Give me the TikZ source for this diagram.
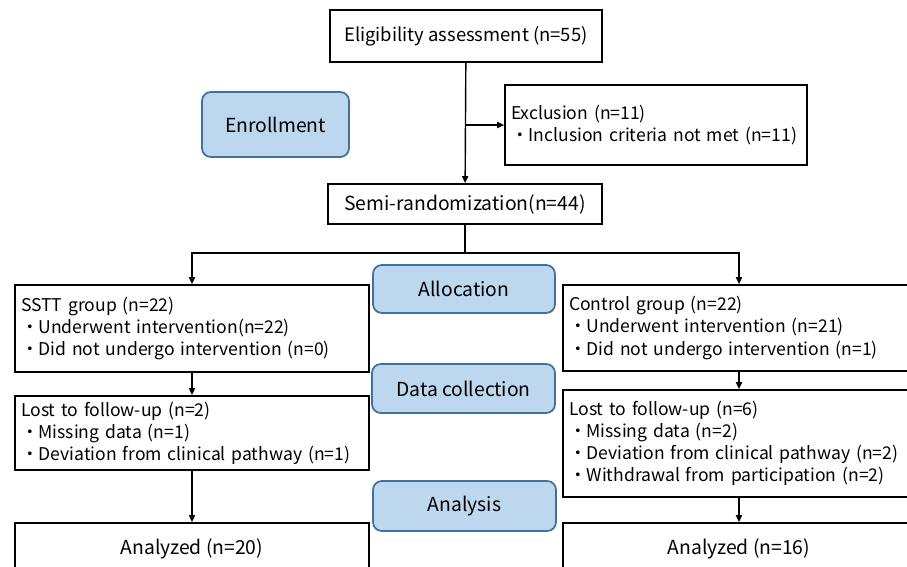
\documentclass[tikz,border=0pt]{standalone}
\usepackage{fontspec}
\setmainfont{Noto Sans CJK JP}
\usetikzlibrary{arrows.meta}
\definecolor{stagefill}{HTML}{BDD7EE}
\definecolor{stageline}{HTML}{41719C}

\begin{document}
\begin{tikzpicture}[x=0.02cm, y=-0.02cm,
	font=\fontsize{10}{12.6}\selectfont,
	box/.style={shape=rectangle, draw, line width=1pt, inner xsep=0.12cm, inner ysep=0pt},
	lbox/.style={box, align=left, text width=#1},
	cbox/.style={box, font=\fontsize{11}{13}\selectfont},
	stage/.style={shape=rectangle, draw=stageline, fill=stagefill, line width=1pt, rounded corners=5pt, font=\fontsize{11}{13}\selectfont},
	arr/.style={-{Triangle[length=4pt, width=3.5pt]}, line width=0.8pt}]
	\useasboundingbox (0,0) rectangle (907,566);

	\node[cbox, minimum width=5.44cm, minimum height=1.04cm, font=\fontsize{10.5}{13}\selectfont] (0) at (466,36) {Eligibility assessment (n=55)};
	\node[stage, minimum width=2.94cm, minimum height=1.30cm] (1) at (275.5,124.5) {Enrollment};
	\node[lbox=5.80cm, minimum height=1.60cm]                 (2) at (656,125)   {Exclusion (n=11)\\・Inclusion criteria not met (n=11)};
	\node[cbox, minimum width=5.48cm, minimum height=0.80cm]  (3) at (465,204)   {Semi-randomization(n=44)};

	\node[lbox=6.84cm, minimum height=1.74cm] (4) at (192,328.5) {SSTT group (n=22)\\・Underwent intervention(n=22)\\・Did not undergo intervention (n=0)};
	\node[stage, minimum width=3.64cm, minimum height=0.96cm] (5) at (464,289) {Allocation};
	\node[lbox=6.80cm, minimum height=1.72cm] (6) at (739,328) {Control group (n=22)\\・Underwent intervention (n=21)\\・Did not undergo intervention (n=1)};

	\node[lbox=6.84cm, minimum height=1.48cm] (7) at (192,433) {Lost to follow-up (n=2)\\・Missing data (n=1)\\・Deviation from clinical pathway (n=1)};
	\node[stage, minimum width=3.66cm, minimum height=0.98cm] (8) at (463.5,388.5) {Data collection};
	\node[lbox=6.80cm, minimum height=2.14cm] (9) at (739,443.5) {Lost to follow-up (n=6)\\・Missing data (n=2)\\・Deviation from clinical pathway (n=2)\\・Withdrawal from participation (n=2)};

	\node[stage, minimum width=3.66cm, minimum height=1.00cm] (10) at (464.5,506) {Analysis};
	\node[cbox, minimum width=7.08cm, minimum height=1.04cm] (11) at (192,549) {Analyzed (n=20)};
	\node[cbox, minimum width=7.04cm, minimum height=1.04cm] (12) at (739,549) {Analyzed (n=16)};

	\coordinate (b) at (465,125);
	\coordinate (s) at (465,253);

	\path [arr] (0) edge (3);
	\path [arr] (b) edge (2.west |- b);
	\draw [line width=0.8pt] (3) -- (s);
	\draw [arr] (s) -| (4);
	\draw [arr] (s) -| (6);
	\path [arr] (4) edge (7);
	\path [arr] (6) edge (9);
	\path [arr] (7) edge (11);
	\path [arr] (9) edge (12);
\end{tikzpicture}
\end{document}
